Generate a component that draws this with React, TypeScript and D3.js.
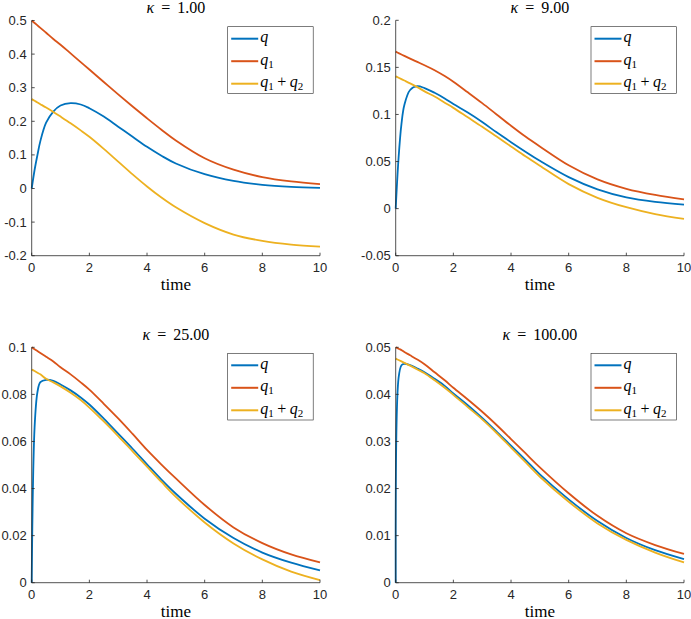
import React from "react";
import * as d3 from "d3";

const times = [0, 0.1, 0.2, 0.3, 0.5, 0.75, 1, 1.35, 1.7, 2, 2.5, 3, 3.5, 4, 4.5, 5, 6, 7, 8, 9, 10];

const kappaLabels = ["1.00", "9.00", "25.00", "100.00"];

// kappa = 1
const q_k1 = [0, 0.055, 0.1, 0.141, 0.196, 0.229, 0.247, 0.254, 0.25, 0.239, 0.214, 0.184, 0.154, 0.124, 0.0975, 0.0745, 0.0425, 0.0225, 0.011, 0.005, 0.002];
const q1_k1 = [0.5, 0.4927, 0.4854, 0.478, 0.4635, 0.445, 0.428, 0.402, 0.376, 0.354, 0.317, 0.28, 0.244, 0.209, 0.175, 0.143, 0.09, 0.056, 0.034, 0.021, 0.013];
const q12_k1 = [0.266, 0.261, 0.256, 0.251, 0.241, 0.228, 0.214, 0.194, 0.173, 0.154, 0.118, 0.08, 0.042, 0.006, -0.027, -0.056, -0.103, -0.137, -0.156, -0.167, -0.173];

// kappa = 9
const q_k9 = [0, 0.054, 0.09, 0.11, 0.126, 0.13, 0.128, 0.123, 0.117, 0.111, 0.102, 0.092, 0.081, 0.0706, 0.0605, 0.0508, 0.0335, 0.0205, 0.012, 0.0072, 0.0043];
const q1_k9 = [0.1667, 0.1652, 0.1637, 0.1622, 0.1593, 0.1558, 0.1522, 0.147, 0.1408, 0.1348, 0.1235, 0.112, 0.1, 0.088, 0.0765, 0.066, 0.046, 0.031, 0.021, 0.0145, 0.0098];
const q12_k9 = [0.1405, 0.139, 0.1375, 0.136, 0.133, 0.129, 0.1245, 0.119, 0.1125, 0.107, 0.097, 0.087, 0.0765, 0.066, 0.0555, 0.0455, 0.026, 0.0115, 0.0015, -0.0058, -0.011];

// kappa = 25
const q_k25 = [0, 0.066, 0.081, 0.0852, 0.0862, 0.0857, 0.0842, 0.0817, 0.0787, 0.0757, 0.0697, 0.0633, 0.0569, 0.0503, 0.0438, 0.0378, 0.0272, 0.019, 0.0128, 0.0085, 0.0052];
const q1_k25 = [0.1, 0.0992, 0.0984, 0.0976, 0.096, 0.094, 0.0915, 0.0885, 0.0851, 0.082, 0.076, 0.0698, 0.0632, 0.0564, 0.0502, 0.0443, 0.033, 0.0235, 0.0168, 0.012, 0.0086];
const q12_k25 = [0.0906, 0.0899, 0.0892, 0.0885, 0.0866, 0.0851, 0.0834, 0.0807, 0.0776, 0.0744, 0.0685, 0.0623, 0.0558, 0.0493, 0.0428, 0.0365, 0.0256, 0.0167, 0.0099, 0.0047, 0.0011];

// kappa = 100
const q_k100 = [0, 0.0435, 0.0462, 0.0465, 0.0462, 0.0455, 0.0447, 0.0433, 0.0418, 0.0402, 0.0377, 0.035, 0.0321, 0.0291, 0.0261, 0.023, 0.0177, 0.0131, 0.0095, 0.0069, 0.005];
const q1_k100 = [0.05, 0.0497, 0.0494, 0.049, 0.0483, 0.0474, 0.0464, 0.0447, 0.043, 0.0414, 0.0389, 0.0363, 0.0335, 0.0305, 0.0275, 0.0245, 0.019, 0.0142, 0.0105, 0.008, 0.0061];
const q12_k100 = [0.0476, 0.0473, 0.047, 0.0467, 0.0461, 0.0453, 0.0445, 0.043, 0.0414, 0.0399, 0.0373, 0.0347, 0.0318, 0.0287, 0.0256, 0.0225, 0.0172, 0.0126, 0.0091, 0.0064, 0.0043];

const xTicks = [0, 2, 4, 6, 8, 10];
const yTicks1 = [-0.2, -0.1, 0, 0.1, 0.2, 0.3, 0.4, 0.5];
const yTicks2 = [-0.05, 0, 0.05, 0.1, 0.15, 0.2];
const yTicks3 = [0, 0.02, 0.04, 0.06, 0.08, 0.1];
const yTicks4 = [0, 0.01, 0.02, 0.03, 0.04, 0.05];

const COLORS = ["#0072BD", "#D95319", "#EDB120"];
const AX = "#262626";
const SERIF = "Liberation Serif, Times New Roman, serif";
const SANS = "Liberation Sans, Arial, Helvetica, sans-serif";

type PanelDef = {
  x0: number; x1: number; y0: number; y1: number;
  yDomain: [number, number]; yTicks: number[];
  series: number[][]; kappa: string;
  legX: number; legY: number;
};

const panels: PanelDef[] = [
  { x0: 31.7, x1: 320, y0: 20.5, y1: 255.7, yDomain: [-0.2, 0.5], yTicks: yTicks1, series: [q_k1, q1_k1, q12_k1], kappa: kappaLabels[0], legX: 227.7, legY: 26.7 },
  { x0: 395.7, x1: 684, y0: 20.3, y1: 255.7, yDomain: [-0.05, 0.2], yTicks: yTicks2, series: [q_k9, q1_k9, q12_k9], kappa: kappaLabels[1], legX: 591, legY: 26.7 },
  { x0: 31.7, x1: 320, y0: 347.3, y1: 582.7, yDomain: [0, 0.1], yTicks: yTicks3, series: [q_k25, q1_k25, q12_k25], kappa: kappaLabels[2], legX: 227.7, legY: 353.3 },
  { x0: 395.7, x1: 684, y0: 347.3, y1: 582.7, yDomain: [0, 0.05], yTicks: yTicks4, series: [q_k100, q1_k100, q12_k100], kappa: kappaLabels[3], legX: 591, legY: 353.3 },
];

function fmt(v: number) {
  if (Math.abs(v) < 1e-12) return "0";
  return String(+v.toFixed(4));
}

function Legend({ x, y }: { x: number; y: number }) {
  const w = 85.5, h = 66.7;
  const rows = [12, 34.5, 57];
  return (
    <g transform={`translate(${x},${y})`}>
      <rect x={0} y={0} width={w} height={h} fill="#fff" stroke={AX} strokeWidth={0.6} />
      {rows.map((ry, i) => (
        <line key={i} x1={3.5} x2={30.5} y1={ry} y2={ry} stroke={COLORS[i]} strokeWidth={2} />
      ))}
      <text x={32.5} y={rows[0] + 3.5} fontFamily={SERIF} fontSize={16} fontStyle="italic" fill="#000">q</text>
      <text x={32.5} y={rows[1] + 3.5} fontFamily={SERIF} fontSize={16} fill="#000">
        <tspan fontStyle="italic">q</tspan>
        <tspan fontSize={11} dy={3}>1</tspan>
      </text>
      <text x={32.5} y={rows[2] + 3.5} fontFamily={SERIF} fontSize={16} fill="#000">
        <tspan fontStyle="italic">q</tspan>
        <tspan fontSize={11} dy={3}>1</tspan>
        <tspan dy={-3} dx={3.5}>+</tspan>
        <tspan fontStyle="italic" dx={3.5}>q</tspan>
        <tspan fontSize={11} dy={3}>2</tspan>
      </text>
    </g>
  );
}

function Panel({ p }: { p: PanelDef }) {
  const xs = d3.scaleLinear().domain([0, 10]).range([p.x0, p.x1]);
  const ys = d3.scaleLinear().domain(p.yDomain).range([p.y1, p.y0]);
  const line = d3.line<number>()
    .x((_, i) => xs(times[i]))
    .y((d) => ys(d))
    .curve(d3.curveCatmullRom.alpha(0.5));
  const cx = (p.x0 + p.x1) / 2;
  return (
    <g>
      <g fill="none" strokeWidth={1.8} strokeLinejoin="round">
        {p.series.map((s, i) => (
          <path key={i} d={line(s) || ""} stroke={COLORS[i]} />
        ))}
      </g>
      <line x1={p.x0} x2={p.x1} y1={p.y1} y2={p.y1} stroke={AX} strokeWidth={0.8} />
      <line x1={p.x0} x2={p.x0} y1={p.y0} y2={p.y1} stroke={AX} strokeWidth={0.8} />
      {xTicks.map((t) => (
        <g key={"x" + t}>
          <line x1={xs(t)} x2={xs(t)} y1={p.y1} y2={p.y1 - 3} stroke={AX} strokeWidth={0.8} />
          <text x={xs(t)} y={p.y1 + 16.5} textAnchor="middle" fontFamily={SANS} fontSize={13} fill={AX}>{t}</text>
        </g>
      ))}
      {p.yTicks.map((t) => (
        <g key={"y" + t}>
          <line x1={p.x0} x2={p.x0 + 3} y1={ys(t)} y2={ys(t)} stroke={AX} strokeWidth={0.8} />
          <text x={p.x0 - 5} y={ys(t) + 4.5} textAnchor="end" fontFamily={SANS} fontSize={13} fill={AX}>{fmt(t)}</text>
        </g>
      ))}
      <text x={cx} y={p.y1 + 33.8} textAnchor="middle" fontFamily={SERIF} fontSize={17} fill="#000">time</text>
      <text x={cx} y={p.y0 - 7.8} textAnchor="middle" fontFamily={SERIF} fontSize={16} fill="#000">
        <tspan fontStyle="italic">κ</tspan>
        <tspan dx={7}>=</tspan>
        <tspan dx={7}>{p.kappa}</tspan>
      </text>
      <Legend x={p.legX} y={p.legY} />
    </g>
  );
}

export default function App() {
  return (
    <svg width={691} height={619} style={{ position: "absolute", left: 0, top: 0, background: "#fff" }}>
      <rect width={691} height={619} fill="#fff" />
      {panels.map((p, i) => (
        <Panel key={i} p={p} />
      ))}
    </svg>
  );
}
